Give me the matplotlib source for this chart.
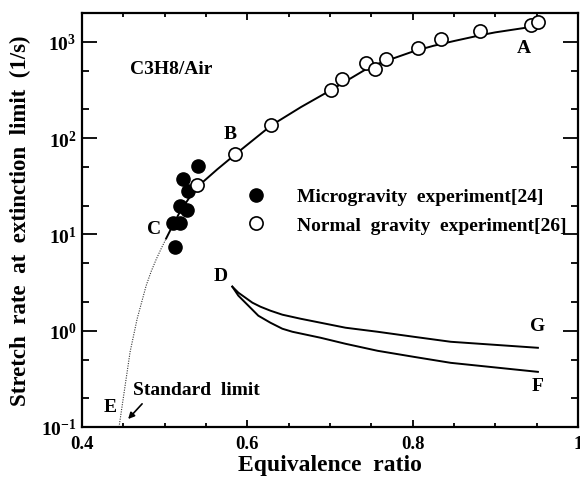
import numpy as np
import matplotlib
matplotlib.use('Agg')
import matplotlib.pyplot as plt
from matplotlib.ticker import FixedLocator, FixedFormatter, LogLocator, NullFormatter

plt.rcParams['font.family'] = 'Liberation Serif'
plt.rcParams['font.weight'] = 'bold'
plt.rcParams['mathtext.fontset'] = 'custom'
plt.rcParams['mathtext.rm'] = 'Liberation Serif:bold'
plt.rcParams['mathtext.bf'] = 'Liberation Serif:bold'

# microgravity experiment [24]
micro_phi = [0.540, 0.522, 0.528, 0.519, 0.527, 0.510, 0.518, 0.513]
micro_k = [51, 38, 28, 20, 17.8, 13.3, 13.3, 7.5]

# normal gravity experiment [26]
normal_phi = [0.539, 0.585, 0.629, 0.701, 0.715, 0.743, 0.754, 0.768,
              0.806, 0.834, 0.881, 0.943, 0.952]
normal_k = [33, 68, 136, 316, 412, 604, 523, 665, 866, 1072, 1303, 1502, 1615]

# computed upper branch C-B-A
abc_phi = [0.5018, 0.5091, 0.5188, 0.5309, 0.5430, 0.5636, 0.5855, 0.629,
           0.665, 0.701, 0.750, 0.800, 0.825, 0.850, 0.882, 0.900, 0.950]
abc_k = [9.09, 12.1, 17.4, 24.9, 33.2, 47.5, 68, 136,
         211, 316, 562, 794, 912, 1023, 1175, 1259, 1462]

# standard limit branch E-C (dotted)
ce_phi = [0.4448, 0.4521, 0.4582, 0.4667, 0.4776, 0.4836, 0.4897, 0.4958, 0.5018]
ce_k = [0.1, 0.267, 0.604, 1.33, 2.94, 4.12, 5.5, 7.15, 9.09]

# lower branches D-G and D-F
dg_phi = [0.5818, 0.5891, 0.5976, 0.6061, 0.6158, 0.6279, 0.6424, 0.6642,
          0.6885, 0.7188, 0.7576, 0.8012, 0.8461, 0.9515]
dg_k = [2.873, 2.488, 2.207, 1.957, 1.778, 1.616, 1.468, 1.334,
        1.212, 1.075, 0.976, 0.866, 0.768, 0.665]
df_phi = [0.5818, 0.5891, 0.5976, 0.6061, 0.6133, 0.6279, 0.6424, 0.6545,
          0.6885, 0.7188, 0.7576, 0.8012, 0.8461, 0.9515]
df_k = [2.873, 2.316, 1.957, 1.654, 1.433, 1.212, 1.049, 0.976,
        0.846, 0.732, 0.619, 0.536, 0.464, 0.374]

x_ticks = [0.4, 0.6, 0.8, 1.0]
x_labels = ['0.4', '0.6', '0.8', '1']
y_ticks = [0.1, 1, 10, 100, 1000]
y_labels = [r'$\mathbf{10^{%d}}$' % int(np.log10(v)) for v in y_ticks]

fig = plt.figure(figsize=(5.8, 4.81), dpi=100)
ax = fig.add_axes([82/580, 1-428/481, 496/580, 414/481])

ax.plot(abc_phi, abc_k, color='black', lw=1.4, zorder=2)
ax.plot(ce_phi, ce_k, color='#333333', lw=0.8, ls=(0, (1, 1.2)), zorder=2)
ax.plot(dg_phi, dg_k, color='black', lw=1.4)
ax.plot(df_phi, df_k, color='black', lw=1.4)

ax.plot(micro_phi, micro_k, 'o', ms=9.5, mfc='black', mec='black',
        label='Microgravity  experiment[24]', zorder=3)
ax.plot(normal_phi, normal_k, 'o', ms=9.5, mfc='white', mec='black', mew=1.2,
        label='Normal  gravity  experiment[26]', zorder=4)

ax.set_yscale('log')
ax.set_xlim(0.4, 1.0)
ax.set_ylim(0.1, 2000)

ax.xaxis.set_major_locator(FixedLocator(x_ticks))
ax.xaxis.set_major_formatter(FixedFormatter(x_labels))
ax.xaxis.set_minor_locator(FixedLocator(np.arange(0.45, 1.0, 0.05)))
ax.yaxis.set_major_locator(FixedLocator(y_ticks))
ax.yaxis.set_major_formatter(FixedFormatter(y_labels))
ax.yaxis.set_minor_locator(LogLocator(base=10, subs=(2, 5)))
ax.yaxis.set_minor_formatter(NullFormatter())

ax.tick_params(which='both', direction='in', top=True, right=True, width=1.3)
ax.tick_params(axis='y', which='major', length=11, pad=4, labelsize=14)
ax.tick_params(axis='y', which='minor', length=5)
ax.tick_params(axis='x', which='major', length=5, pad=6, labelsize=13.5)
ax.tick_params(axis='x', which='minor', length=3)
for s in ax.spines.values():
    s.set_linewidth(1.6)

ax.set_xlabel('Equivalence  ratio', fontsize=17, fontweight='bold', labelpad=1)
ax.set_ylabel('Stretch  rate  at  extinction  limit  (1/s)', fontsize=16.5,
              fontweight='bold', labelpad=7)

fs = 14
ax.text(0.508, 536, 'C3H8/Air', fontsize=fs, ha='center', va='center')
ax.text(0.9345, 866, 'A', fontsize=fs, ha='center', va='center')
ax.text(0.579, 113, 'B', fontsize=fs, ha='center', va='center')
ax.text(0.487, 11.5, 'C', fontsize=fs, ha='center', va='center')
ax.text(0.568, 3.74, 'D', fontsize=fs, ha='center', va='center')
ax.text(0.434, 0.162, 'E', fontsize=fs, ha='center', va='center')
ax.text(0.9515, 0.267, 'F', fontsize=fs, ha='center', va='center')
ax.text(0.9515, 1.13, 'G', fontsize=fs, ha='center', va='center')
ax.text(0.4618, 0.243, 'Standard  limit', fontsize=fs, ha='left', va='center')
ax.annotate('', xy=(0.4558, 0.121), xytext=(0.4727, 0.174),
            arrowprops=dict(arrowstyle='-|>', color='black', lw=1.2,
                            mutation_scale=9, shrinkA=0, shrinkB=0))

ax.legend(loc='upper left', bbox_to_anchor=(0.331, 0.578), frameon=False,
          fontsize=fs, borderpad=0, borderaxespad=0, handlelength=1.0,
          handletextpad=1.6, labelspacing=0.55, numpoints=1)

fig.savefig('out.png', dpi=100)
